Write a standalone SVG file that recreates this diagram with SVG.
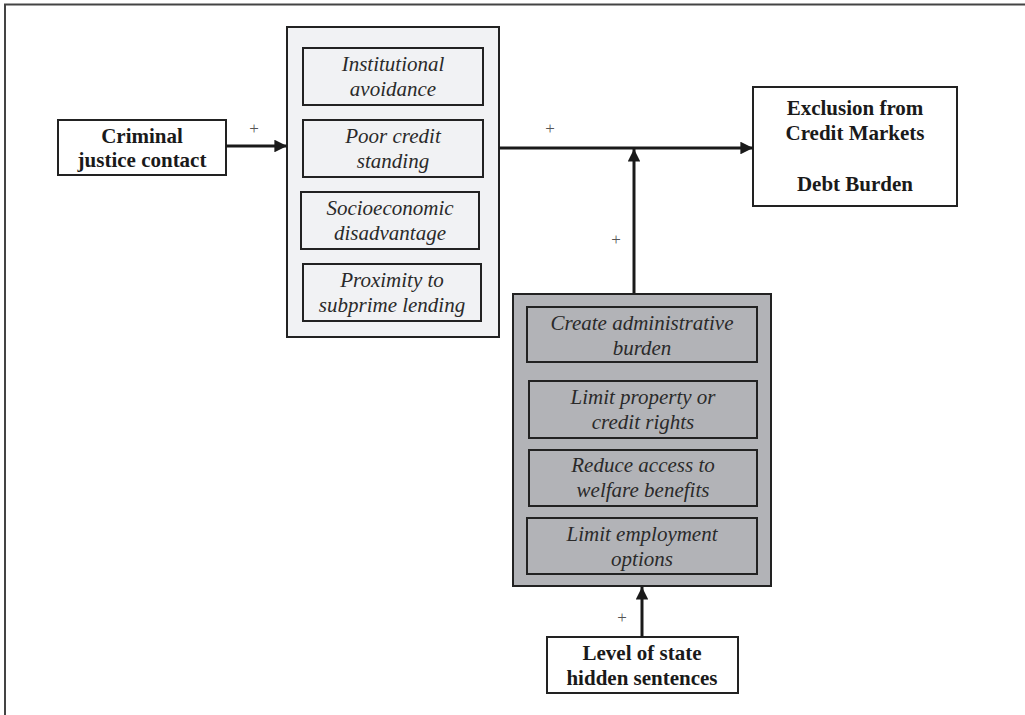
<svg xmlns="http://www.w3.org/2000/svg" width="1025" height="715" viewBox="0 0 1025 715">
<style>
.b{fill:#fff;stroke:#222;stroke-width:2}
.lg{fill:#f1f2f4;stroke:#222;stroke-width:2}
.dg{fill:#b2b3b7;stroke:#222;stroke-width:2}
.ib{stroke:#222;stroke-width:2}
text{font-family:'Liberation Serif','Times New Roman','DejaVu Serif',serif}
.tb{font-weight:bold;font-size:21px;fill:#1a1a1a;text-anchor:middle}
.ti{font-style:italic;font-size:21px;fill:#2a2a2a;text-anchor:middle}
.pl{font-size:17px;fill:#555;text-anchor:middle}
.c{stroke:#1a1a1a;stroke-width:3;fill:none}
</style>
<defs>
<marker id="ah" viewBox="0 0 10 10" refX="10" refY="5" markerWidth="4.2" markerHeight="4.2" orient="auto" markerUnits="strokeWidth">
<path d="M0,0 L10,5 L0,10 Z" fill="#1a1a1a"/>
</marker>
</defs>
<rect width="1025" height="715" fill="#fff"/>
<path d="M5,715 V4.5 H1025" fill="none" stroke="#444" stroke-width="2"/>

<g id="criminal">
<rect class="b" x="58" y="120" width="168" height="55"/>
<text class="tb" x="142" y="143">Criminal</text>
<text class="tb" x="142" y="167">justice contact</text>
</g>

<g id="mechanisms">
<rect class="lg" x="287" y="27" width="212" height="310"/>
<g id="institutional">
<rect class="lg ib" x="303" y="48" width="180" height="57"/>
<text class="ti" x="393" y="71">Institutional</text>
<text class="ti" x="393" y="96">avoidance</text>
</g>
<g id="poor-credit">
<rect class="lg ib" x="303" y="120" width="180" height="57"/>
<text class="ti" x="393" y="143">Poor credit</text>
<text class="ti" x="393" y="168">standing</text>
</g>
<g id="socioeconomic">
<rect class="lg ib" x="301" y="192" width="178" height="57"/>
<text class="ti" x="390" y="215">Socioeconomic</text>
<text class="ti" x="390" y="240">disadvantage</text>
</g>
<g id="proximity">
<rect class="lg ib" x="303" y="264" width="178" height="57"/>
<text class="ti" x="392" y="287">Proximity to</text>
<text class="ti" x="392" y="312">subprime lending</text>
</g>
</g>

<g id="exclusion">
<rect class="b" x="753" y="87" width="204" height="119"/>
<text class="tb" x="855" y="115">Exclusion from</text>
<text class="tb" x="855" y="140">Credit Markets</text>
<text class="tb" x="855" y="191">Debt Burden</text>
</g>

<g id="hidden-sentences">
<rect class="dg" x="513" y="294" width="258" height="292"/>
<g id="admin">
<rect class="dg ib" x="527" y="307" width="230" height="55"/>
<text class="ti" x="642" y="330">Create administrative</text>
<text class="ti" x="642" y="355">burden</text>
</g>
<g id="property">
<rect class="dg ib" x="529" y="381" width="228" height="57"/>
<text class="ti" x="643" y="404">Limit property or</text>
<text class="ti" x="643" y="429">credit rights</text>
</g>
<g id="welfare">
<rect class="dg ib" x="529" y="450" width="228" height="56"/>
<text class="ti" x="643" y="472">Reduce access to</text>
<text class="ti" x="643" y="497">welfare benefits</text>
</g>
<g id="employment">
<rect class="dg ib" x="527" y="518" width="230" height="56"/>
<text class="ti" x="642" y="541">Limit employment</text>
<text class="ti" x="642" y="566">options</text>
</g>
</g>

<g id="level">
<rect class="b" x="547" y="637" width="191" height="56"/>
<text class="tb" x="642" y="660">Level of state</text>
<text class="tb" x="642" y="685">hidden sentences</text>
</g>

<g id="connectors">
<line class="c" x1="226" y1="146" x2="287" y2="146" marker-end="url(#ah)"/>
<line class="c" x1="499" y1="148" x2="753" y2="148" marker-end="url(#ah)"/>
<line class="c" x1="634" y1="293" x2="634" y2="149" marker-end="url(#ah)"/>
<line class="c" x1="642" y1="637" x2="642" y2="587" marker-end="url(#ah)"/>
<text class="pl" x="254" y="134">+</text>
<text class="pl" x="550" y="134">+</text>
<text class="pl" x="616" y="245">+</text>
<text class="pl" x="622" y="623">+</text>
</g>
</svg>
